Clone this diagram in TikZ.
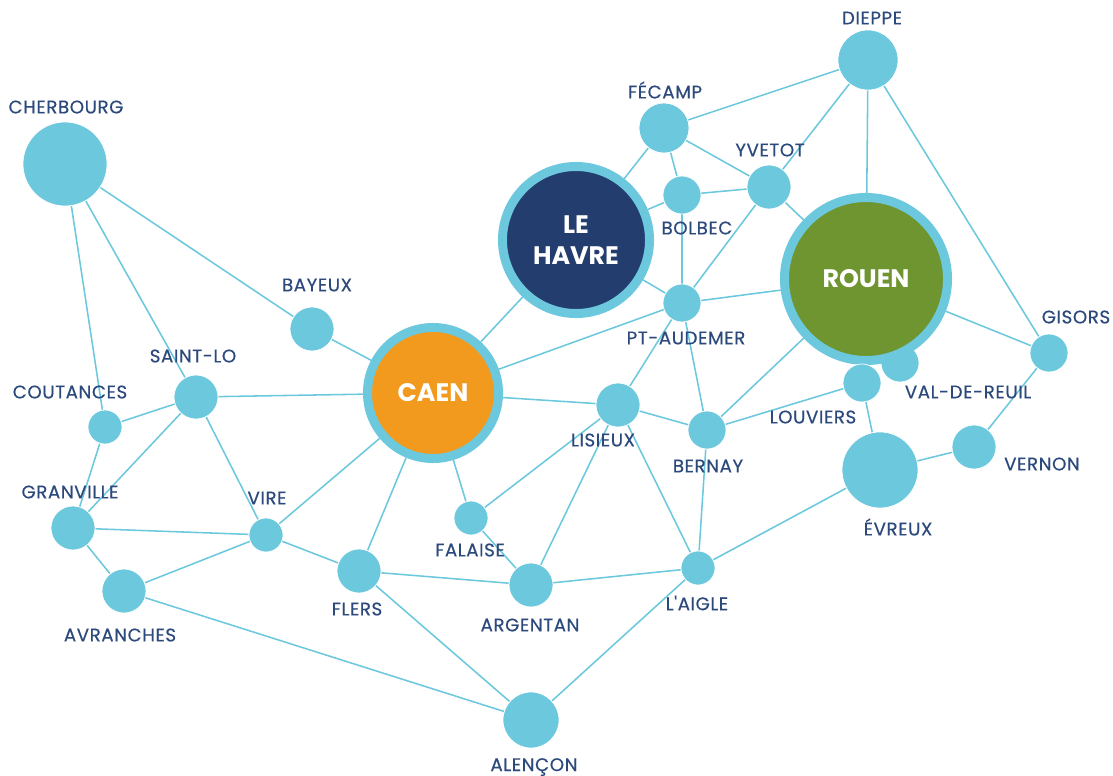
\documentclass[tikz,border=0pt]{standalone}
\usepackage{fontspec}
\usepackage{tikz}
\setmainfont{Poppins}
\newfontfamily\cityfont[LetterSpace=3, FakeBold=0.4]{Poppins}
\definecolor{cityblue}{RGB}{108, 200, 221}
\definecolor{labelblue}{RGB}{44, 73, 124}
\definecolor{havrenavy}{RGB}{35, 61, 110}
\definecolor{rouengreen}{RGB}{111, 149, 48}
\definecolor{caenorange}{RGB}{242, 154, 29}
\usetikzlibrary{backgrounds}

\begin{document}
\begin{tikzpicture}[
    x=0.025cm, y=-0.025cm,
    city/.style={circle, fill=cityblue, draw=white, line width=0.5pt, inner sep=0pt},
    small/.style={city, minimum size=0.85cm},
    mid/.style={city, minimum size=0.95cm},
    big/.style={city, minimum size=1.1cm},
    hub/.style={circle, draw=cityblue, line width=0.225cm, inner sep=0pt, text=white, align=center, font=\bfseries\fontsize{18}{22}\selectfont},
    lbl/.style={text=labelblue, inner sep=0pt, font=\cityfont\fontsize{13}{15}\selectfont},
    road/.style={cityblue, line width=1.1pt}
]
    \useasboundingbox (0,0) rectangle (1113,776);

    % West
    \node[city, minimum size=2.1cm] (cherbourg) at (65,164) {};
    \node[big] (bayeux) at (312,329) {};
    \node[big] (saintlo) at (196,397) {};
    \node[small] (coutances) at (105,427) {};
    \node[big] (granville) at (73,528) {};
    \node[big] (avranches) at (124,591) {};
    \node[small] (vire) at (266,535) {};
    \node[big] (flers) at (359,571) {};
    \node[city, minimum size=1.4cm] (alencon) at (531,720) {};

    % Centre
    \node[hub, fill=caenorange, minimum size=3.275cm] (caen) at (433,393) {CAEN};
    \node[small] (falaise) at (471,518) {};
    \node[big] (argentan) at (531,585) {};
    \node[big] (lisieux) at (618,405) {};
    \node[mid] (bernay) at (707,430) {};
    \node[small] (laigle) at (698,568) {};
    \node[mid] (ptaudemer) at (682,303) {};

    % North
    \node[hub, fill=havrenavy, minimum size=3.675cm] (lehavre) at (576,240) {LE\\HAVRE};
    \node[mid] (bolbec) at (682,195) {};
    \node[big] (yvetot) at (769,187) {};
    \node[city, minimum size=1.25cm] (fecamp) at (664,128) {};
    \node[city, minimum size=1.5cm] (dieppe) at (868,60) {};

    % East
    \node[mid] (valdereuil) at (900,363) {};
    \node[hub, fill=rouengreen, minimum size=4.075cm] (rouen) at (866,279) {ROUEN};
    \node[mid] (louviers) at (862,383) {};
    \node[mid] (gisors) at (1049,353) {};
    \node[big] (vernon) at (974,447) {};
    \node[city, minimum size=1.9cm] (evreux) at (880,470) {};

    % Roads
    \begin{scope}[on background layer]
        \draw[road] (cherbourg) -- (coutances);
        \draw[road] (cherbourg) -- (saintlo);
        \draw[road] (cherbourg) -- (bayeux);
        \draw[road] (bayeux) -- (caen);
        \draw[road] (saintlo) -- (caen);
        \draw[road] (saintlo) -- (coutances);
        \draw[road] (saintlo) -- (granville);
        \draw[road] (saintlo) -- (vire);
        \draw[road] (coutances) -- (granville);
        \draw[road] (granville) -- (vire);
        \draw[road] (granville) -- (avranches);
        \draw[road] (avranches) -- (vire);
        \draw[road] (avranches) -- (alencon);
        \draw[road] (vire) -- (caen);
        \draw[road] (vire) -- (flers);
        \draw[road] (flers) -- (caen);
        \draw[road] (flers) -- (argentan);
        \draw[road] (flers) -- (alencon);
        \draw[road] (caen) -- (lehavre);
        \draw[road] (caen) -- (ptaudemer);
        \draw[road] (caen) -- (lisieux);
        \draw[road] (caen) -- (falaise);
        \draw[road] (falaise) -- (lisieux);
        \draw[road] (falaise) -- (argentan);
        \draw[road] (lisieux) -- (argentan);
        \draw[road] (lisieux) -- (ptaudemer);
        \draw[road] (lisieux) -- (bernay);
        \draw[road] (lisieux) -- (laigle);
        \draw[road] (argentan) -- (laigle);
        \draw[road] (laigle) -- (bernay);
        \draw[road] (laigle) -- (alencon);
        \draw[road] (laigle) -- (evreux);
        \draw[road] (bernay) -- (ptaudemer);
        \draw[road] (bernay) -- (rouen);
        \draw[road] (bernay) -- (louviers);
        \draw[road] (ptaudemer) -- (lehavre);
        \draw[road] (ptaudemer) -- (bolbec);
        \draw[road] (ptaudemer) -- (yvetot);
        \draw[road] (ptaudemer) -- (rouen);
        \draw[road] (lehavre) -- (fecamp);
        \draw[road] (lehavre) -- (bolbec);
        \draw[road] (fecamp) -- (bolbec);
        \draw[road] (fecamp) -- (yvetot);
        \draw[road] (fecamp) -- (dieppe);
        \draw[road] (bolbec) -- (yvetot);
        \draw[road] (yvetot) -- (dieppe);
        \draw[road] (yvetot) -- (rouen);
        \draw[road] (dieppe) -- (rouen);
        \draw[road] (dieppe) -- (gisors);
        \draw[road] (rouen) -- (gisors);
        \draw[road] (gisors) -- (vernon);
        \draw[road] (vernon) -- (evreux);
        \draw[road] (louviers) -- (evreux);
    \end{scope}

    % Names
    \node[lbl] (l-cherbourg) at (66,107) {CHERBOURG};
    \node[lbl] (l-bayeux) at (317,285) {BAYEUX};
    \node[lbl] (l-saintlo) at (193,356) {SAINT-LO};
    \node[lbl] (l-coutances) at (70,392) {COUTANCES};
    \node[lbl] (l-granville) at (70,492) {GRANVILLE};
    \node[lbl] (l-vire) at (267,498) {VIRE};
    \node[lbl] (l-avranches) at (120,635) {AVRANCHES};
    \node[lbl] (l-flers) at (357,609) {FLERS};
    \node[lbl] (l-alencon) at (534,767) {ALENÇON};
    \node[lbl] (l-falaise) at (470,550) {FALAISE};
    \node[lbl] (l-argentan) at (530,625) {ARGENTAN};
    \node[lbl] (l-lisieux) at (603,440) {LISIEUX};
    \node[lbl] (l-bernay) at (708,466) {BERNAY};
    \node[lbl] (l-laigle) at (697,603) {L'AIGLE};
    \node[lbl] (l-ptaudemer) at (686,338) {PT-AUDEMER};
    \node[lbl] (l-bolbec) at (697,228) {BOLBEC};
    \node[lbl] (l-yvetot) at (770,150) {YVETOT};
    \node[lbl] (l-fecamp) at (665,90) {FÉCAMP};
    \node[lbl] (l-dieppe) at (872,18) {DIEPPE};
    \node[lbl] (l-louviers) at (813,417) {LOUVIERS};
    \node[lbl] (l-valdereuil) at (968,392) {VAL-DE-REUIL};
    \node[lbl] (l-gisors) at (1076,317) {GISORS};
    \node[lbl] (l-vernon) at (1042,464) {VERNON};
    \node[lbl] (l-evreux) at (898,527) {ÉVREUX};
\end{tikzpicture}
\end{document}
